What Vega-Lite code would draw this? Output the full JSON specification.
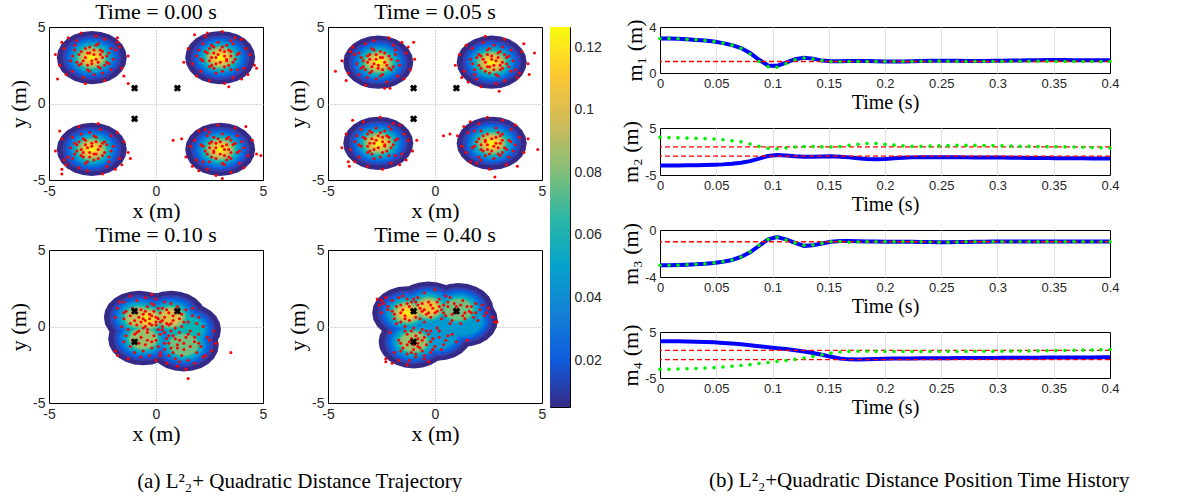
{
"$schema": "https://vega.github.io/schema/vega-lite/v6.json",
"padding": {"left": 7, "top": 0, "right": 5, "bottom": 0},
"background": "white",
"config": {
  "view": {"stroke": "#000000", "strokeWidth": 1},
  "axis": {"domain": false, "ticks": false, "labelFont": "Liberation Sans", "labelFontSize": 14, "labelColor": "#262626", "titleFont": "Liberation Serif", "titleFontWeight": "normal", "titleFontSize": 22, "titleColor": "#000000", "labelFlush": false, "labelOverlap": false, "labelPadding": 4, "titlePadding": 2},
  "title": {"font": "Liberation Serif", "fontWeight": "normal", "fontSize": 22, "color": "#000000", "offset": -4}
},
"datasets": {
"agents": [{"x":-1,"y":1},{"x":1,"y":1},{"x":-1,"y":-1}],
"cbar": [{"lo":0.005,"hi":0.1265}],
"refs": [{"m":"m1","r":1},{"m":"m2","r":1},{"m":"m2","r":-1},{"m":"m3","r":-1},{"m":"m4","r":1},{"m":"m4","r":-1}],
"blobs": [
{"p":"t0","x":-3,"y":3,"d":0.005},{"p":"t0","x":-3,"y":3,"d":0.013},{"p":"t0","x":-3,"y":3,"d":0.021},{"p":"t0","x":-3,"y":3,"d":0.029},{"p":"t0","x":-3,"y":3,"d":0.037},{"p":"t0","x":-3,"y":3,"d":0.045},{"p":"t0","x":-3,"y":3,"d":0.053},{"p":"t0","x":-3,"y":3,"d":0.061},{"p":"t0","x":-3,"y":3,"d":0.069},{"p":"t0","x":-3,"y":3,"d":0.077},{"p":"t0","x":-3,"y":3,"d":0.085},{"p":"t0","x":-3,"y":3,"d":0.093},{"p":"t0","x":-3,"y":3,"d":0.101},{"p":"t0","x":-3,"y":3,"d":0.109},{"p":"t0","x":-3,"y":3,"d":0.117},{"p":"t0","x":-3,"y":3,"d":0.124},
{"p":"t0","x":3,"y":3,"d":0.005},{"p":"t0","x":3,"y":3,"d":0.013},{"p":"t0","x":3,"y":3,"d":0.021},{"p":"t0","x":3,"y":3,"d":0.029},{"p":"t0","x":3,"y":3,"d":0.037},{"p":"t0","x":3,"y":3,"d":0.045},{"p":"t0","x":3,"y":3,"d":0.053},{"p":"t0","x":3,"y":3,"d":0.061},{"p":"t0","x":3,"y":3,"d":0.069},{"p":"t0","x":3,"y":3,"d":0.077},{"p":"t0","x":3,"y":3,"d":0.085},{"p":"t0","x":3,"y":3,"d":0.093},{"p":"t0","x":3,"y":3,"d":0.101},{"p":"t0","x":3,"y":3,"d":0.109},{"p":"t0","x":3,"y":3,"d":0.117},{"p":"t0","x":3,"y":3,"d":0.124},
{"p":"t0","x":-3,"y":-3,"d":0.005},{"p":"t0","x":-3,"y":-3,"d":0.013},{"p":"t0","x":-3,"y":-3,"d":0.021},{"p":"t0","x":-3,"y":-3,"d":0.029},{"p":"t0","x":-3,"y":-3,"d":0.037},{"p":"t0","x":-3,"y":-3,"d":0.045},{"p":"t0","x":-3,"y":-3,"d":0.053},{"p":"t0","x":-3,"y":-3,"d":0.061},{"p":"t0","x":-3,"y":-3,"d":0.069},{"p":"t0","x":-3,"y":-3,"d":0.077},{"p":"t0","x":-3,"y":-3,"d":0.085},{"p":"t0","x":-3,"y":-3,"d":0.093},{"p":"t0","x":-3,"y":-3,"d":0.101},{"p":"t0","x":-3,"y":-3,"d":0.109},{"p":"t0","x":-3,"y":-3,"d":0.117},{"p":"t0","x":-3,"y":-3,"d":0.124},
{"p":"t0","x":3,"y":-3,"d":0.005},{"p":"t0","x":3,"y":-3,"d":0.013},{"p":"t0","x":3,"y":-3,"d":0.021},{"p":"t0","x":3,"y":-3,"d":0.029},{"p":"t0","x":3,"y":-3,"d":0.037},{"p":"t0","x":3,"y":-3,"d":0.045},{"p":"t0","x":3,"y":-3,"d":0.053},{"p":"t0","x":3,"y":-3,"d":0.061},{"p":"t0","x":3,"y":-3,"d":0.069},{"p":"t0","x":3,"y":-3,"d":0.077},{"p":"t0","x":3,"y":-3,"d":0.085},{"p":"t0","x":3,"y":-3,"d":0.093},{"p":"t0","x":3,"y":-3,"d":0.101},{"p":"t0","x":3,"y":-3,"d":0.109},{"p":"t0","x":3,"y":-3,"d":0.117},{"p":"t0","x":3,"y":-3,"d":0.124},
{"p":"t05","x":-2.65,"y":2.7,"d":0.005},{"p":"t05","x":-2.65,"y":2.7,"d":0.013},{"p":"t05","x":-2.65,"y":2.7,"d":0.021},{"p":"t05","x":-2.65,"y":2.7,"d":0.029},{"p":"t05","x":-2.65,"y":2.7,"d":0.037},{"p":"t05","x":-2.65,"y":2.7,"d":0.045},{"p":"t05","x":-2.65,"y":2.7,"d":0.053},{"p":"t05","x":-2.65,"y":2.7,"d":0.061},{"p":"t05","x":-2.65,"y":2.7,"d":0.069},{"p":"t05","x":-2.65,"y":2.7,"d":0.077},{"p":"t05","x":-2.65,"y":2.7,"d":0.085},{"p":"t05","x":-2.65,"y":2.7,"d":0.093},{"p":"t05","x":-2.65,"y":2.7,"d":0.101},{"p":"t05","x":-2.65,"y":2.7,"d":0.109},{"p":"t05","x":-2.65,"y":2.7,"d":0.117},{"p":"t05","x":-2.65,"y":2.7,"d":0.124},
{"p":"t05","x":2.65,"y":2.7,"d":0.005},{"p":"t05","x":2.65,"y":2.7,"d":0.013},{"p":"t05","x":2.65,"y":2.7,"d":0.021},{"p":"t05","x":2.65,"y":2.7,"d":0.029},{"p":"t05","x":2.65,"y":2.7,"d":0.037},{"p":"t05","x":2.65,"y":2.7,"d":0.045},{"p":"t05","x":2.65,"y":2.7,"d":0.053},{"p":"t05","x":2.65,"y":2.7,"d":0.061},{"p":"t05","x":2.65,"y":2.7,"d":0.069},{"p":"t05","x":2.65,"y":2.7,"d":0.077},{"p":"t05","x":2.65,"y":2.7,"d":0.085},{"p":"t05","x":2.65,"y":2.7,"d":0.093},{"p":"t05","x":2.65,"y":2.7,"d":0.101},{"p":"t05","x":2.65,"y":2.7,"d":0.109},{"p":"t05","x":2.65,"y":2.7,"d":0.117},{"p":"t05","x":2.65,"y":2.7,"d":0.124},
{"p":"t05","x":-2.65,"y":-2.6,"d":0.005},{"p":"t05","x":-2.65,"y":-2.6,"d":0.013},{"p":"t05","x":-2.65,"y":-2.6,"d":0.021},{"p":"t05","x":-2.65,"y":-2.6,"d":0.029},{"p":"t05","x":-2.65,"y":-2.6,"d":0.037},{"p":"t05","x":-2.65,"y":-2.6,"d":0.045},{"p":"t05","x":-2.65,"y":-2.6,"d":0.053},{"p":"t05","x":-2.65,"y":-2.6,"d":0.061},{"p":"t05","x":-2.65,"y":-2.6,"d":0.069},{"p":"t05","x":-2.65,"y":-2.6,"d":0.077},{"p":"t05","x":-2.65,"y":-2.6,"d":0.085},{"p":"t05","x":-2.65,"y":-2.6,"d":0.093},{"p":"t05","x":-2.65,"y":-2.6,"d":0.101},{"p":"t05","x":-2.65,"y":-2.6,"d":0.109},{"p":"t05","x":-2.65,"y":-2.6,"d":0.117},{"p":"t05","x":-2.65,"y":-2.6,"d":0.124},
{"p":"t05","x":2.65,"y":-2.6,"d":0.005},{"p":"t05","x":2.65,"y":-2.6,"d":0.013},{"p":"t05","x":2.65,"y":-2.6,"d":0.021},{"p":"t05","x":2.65,"y":-2.6,"d":0.029},{"p":"t05","x":2.65,"y":-2.6,"d":0.037},{"p":"t05","x":2.65,"y":-2.6,"d":0.045},{"p":"t05","x":2.65,"y":-2.6,"d":0.053},{"p":"t05","x":2.65,"y":-2.6,"d":0.061},{"p":"t05","x":2.65,"y":-2.6,"d":0.069},{"p":"t05","x":2.65,"y":-2.6,"d":0.077},{"p":"t05","x":2.65,"y":-2.6,"d":0.085},{"p":"t05","x":2.65,"y":-2.6,"d":0.093},{"p":"t05","x":2.65,"y":-2.6,"d":0.101},{"p":"t05","x":2.65,"y":-2.6,"d":0.109},{"p":"t05","x":2.65,"y":-2.6,"d":0.117},{"p":"t05","x":2.65,"y":-2.6,"d":0.124},
{"p":"t10","x":-0.4,"y":0.5,"d":0.005},{"p":"t10","x":-0.4,"y":0.5,"d":0.013},{"p":"t10","x":-0.4,"y":0.5,"d":0.021},{"p":"t10","x":-0.4,"y":0.5,"d":0.029},{"p":"t10","x":-0.4,"y":0.5,"d":0.037},{"p":"t10","x":-0.4,"y":0.5,"d":0.045},{"p":"t10","x":-0.4,"y":0.5,"d":0.053},{"p":"t10","x":-0.4,"y":0.5,"d":0.061},{"p":"t10","x":-0.4,"y":0.5,"d":0.069},{"p":"t10","x":-0.4,"y":0.5,"d":0.077},{"p":"t10","x":-0.4,"y":0.5,"d":0.085},{"p":"t10","x":-0.4,"y":0.5,"d":0.093},{"p":"t10","x":-0.4,"y":0.5,"d":0.101},{"p":"t10","x":-0.4,"y":0.5,"d":0.109},{"p":"t10","x":-0.4,"y":0.5,"d":0.117},{"p":"t10","x":-0.4,"y":0.5,"d":0.124},
{"p":"t10","x":-0.8,"y":0.6,"d":0.005},{"p":"t10","x":-0.8,"y":0.6,"d":0.013},{"p":"t10","x":-0.8,"y":0.6,"d":0.021},{"p":"t10","x":-0.8,"y":0.6,"d":0.029},{"p":"t10","x":-0.8,"y":0.6,"d":0.037},{"p":"t10","x":-0.8,"y":0.6,"d":0.045},{"p":"t10","x":-0.8,"y":0.6,"d":0.053},{"p":"t10","x":-0.8,"y":0.6,"d":0.061},{"p":"t10","x":-0.8,"y":0.6,"d":0.069},{"p":"t10","x":-0.8,"y":0.6,"d":0.077},{"p":"t10","x":-0.8,"y":0.6,"d":0.085},{"p":"t10","x":-0.8,"y":0.6,"d":0.093},
{"p":"t10","x":0.7,"y":0.6,"d":0.005},{"p":"t10","x":0.7,"y":0.6,"d":0.013},{"p":"t10","x":0.7,"y":0.6,"d":0.021},{"p":"t10","x":0.7,"y":0.6,"d":0.029},{"p":"t10","x":0.7,"y":0.6,"d":0.037},{"p":"t10","x":0.7,"y":0.6,"d":0.045},{"p":"t10","x":0.7,"y":0.6,"d":0.053},{"p":"t10","x":0.7,"y":0.6,"d":0.061},{"p":"t10","x":0.7,"y":0.6,"d":0.069},{"p":"t10","x":0.7,"y":0.6,"d":0.077},{"p":"t10","x":0.7,"y":0.6,"d":0.085},{"p":"t10","x":0.7,"y":0.6,"d":0.093},{"p":"t10","x":0.7,"y":0.6,"d":0.101},
{"p":"t10","x":-0.6,"y":-0.8,"d":0.005},{"p":"t10","x":-0.6,"y":-0.8,"d":0.013},{"p":"t10","x":-0.6,"y":-0.8,"d":0.021},{"p":"t10","x":-0.6,"y":-0.8,"d":0.029},{"p":"t10","x":-0.6,"y":-0.8,"d":0.037},{"p":"t10","x":-0.6,"y":-0.8,"d":0.045},{"p":"t10","x":-0.6,"y":-0.8,"d":0.053},{"p":"t10","x":-0.6,"y":-0.8,"d":0.061},{"p":"t10","x":-0.6,"y":-0.8,"d":0.069},{"p":"t10","x":-0.6,"y":-0.8,"d":0.077},{"p":"t10","x":-0.6,"y":-0.8,"d":0.085},
{"p":"t10","x":1.3,"y":-1.2,"d":0.005},{"p":"t10","x":1.3,"y":-1.2,"d":0.013},{"p":"t10","x":1.3,"y":-1.2,"d":0.021},{"p":"t10","x":1.3,"y":-1.2,"d":0.029},{"p":"t10","x":1.3,"y":-1.2,"d":0.037},{"p":"t10","x":1.3,"y":-1.2,"d":0.045},{"p":"t10","x":1.3,"y":-1.2,"d":0.053},{"p":"t10","x":1.3,"y":-1.2,"d":0.061},{"p":"t10","x":1.3,"y":-1.2,"d":0.069},{"p":"t10","x":1.3,"y":-1.2,"d":0.077},
{"p":"t10","x":1.4,"y":-0.2,"d":0.005},{"p":"t10","x":1.4,"y":-0.2,"d":0.013},{"p":"t10","x":1.4,"y":-0.2,"d":0.021},{"p":"t10","x":1.4,"y":-0.2,"d":0.029},{"p":"t10","x":1.4,"y":-0.2,"d":0.037},{"p":"t10","x":1.4,"y":-0.2,"d":0.045},{"p":"t10","x":1.4,"y":-0.2,"d":0.053},{"p":"t10","x":1.4,"y":-0.2,"d":0.061},
{"p":"t40","x":-1.3,"y":0.9,"d":0.005},{"p":"t40","x":-1.3,"y":0.9,"d":0.013},{"p":"t40","x":-1.3,"y":0.9,"d":0.021},{"p":"t40","x":-1.3,"y":0.9,"d":0.029},{"p":"t40","x":-1.3,"y":0.9,"d":0.037},{"p":"t40","x":-1.3,"y":0.9,"d":0.045},{"p":"t40","x":-1.3,"y":0.9,"d":0.053},{"p":"t40","x":-1.3,"y":0.9,"d":0.061},{"p":"t40","x":-1.3,"y":0.9,"d":0.069},{"p":"t40","x":-1.3,"y":0.9,"d":0.077},{"p":"t40","x":-1.3,"y":0.9,"d":0.085},{"p":"t40","x":-1.3,"y":0.9,"d":0.093},{"p":"t40","x":-1.3,"y":0.9,"d":0.101},{"p":"t40","x":-1.3,"y":0.9,"d":0.109},{"p":"t40","x":-1.3,"y":0.9,"d":0.117},{"p":"t40","x":-1.3,"y":0.9,"d":0.124},
{"p":"t40","x":-0.3,"y":1.2,"d":0.005},{"p":"t40","x":-0.3,"y":1.2,"d":0.013},{"p":"t40","x":-0.3,"y":1.2,"d":0.021},{"p":"t40","x":-0.3,"y":1.2,"d":0.029},{"p":"t40","x":-0.3,"y":1.2,"d":0.037},{"p":"t40","x":-0.3,"y":1.2,"d":0.045},{"p":"t40","x":-0.3,"y":1.2,"d":0.053},{"p":"t40","x":-0.3,"y":1.2,"d":0.061},{"p":"t40","x":-0.3,"y":1.2,"d":0.069},{"p":"t40","x":-0.3,"y":1.2,"d":0.077},{"p":"t40","x":-0.3,"y":1.2,"d":0.085},{"p":"t40","x":-0.3,"y":1.2,"d":0.093},{"p":"t40","x":-0.3,"y":1.2,"d":0.101},{"p":"t40","x":-0.3,"y":1.2,"d":0.109},
{"p":"t40","x":1.1,"y":1.1,"d":0.005},{"p":"t40","x":1.1,"y":1.1,"d":0.013},{"p":"t40","x":1.1,"y":1.1,"d":0.021},{"p":"t40","x":1.1,"y":1.1,"d":0.029},{"p":"t40","x":1.1,"y":1.1,"d":0.037},{"p":"t40","x":1.1,"y":1.1,"d":0.045},{"p":"t40","x":1.1,"y":1.1,"d":0.053},{"p":"t40","x":1.1,"y":1.1,"d":0.061},{"p":"t40","x":1.1,"y":1.1,"d":0.069},{"p":"t40","x":1.1,"y":1.1,"d":0.077},
{"p":"t40","x":-1.0,"y":-1.0,"d":0.005},{"p":"t40","x":-1.0,"y":-1.0,"d":0.013},{"p":"t40","x":-1.0,"y":-1.0,"d":0.021},{"p":"t40","x":-1.0,"y":-1.0,"d":0.029},{"p":"t40","x":-1.0,"y":-1.0,"d":0.037},{"p":"t40","x":-1.0,"y":-1.0,"d":0.045},{"p":"t40","x":-1.0,"y":-1.0,"d":0.053},{"p":"t40","x":-1.0,"y":-1.0,"d":0.061},{"p":"t40","x":-1.0,"y":-1.0,"d":0.069},{"p":"t40","x":-1.0,"y":-1.0,"d":0.077},{"p":"t40","x":-1.0,"y":-1.0,"d":0.085},
{"p":"t40","x":0.1,"y":-0.5,"d":0.005},{"p":"t40","x":0.1,"y":-0.5,"d":0.013},{"p":"t40","x":0.1,"y":-0.5,"d":0.021},{"p":"t40","x":0.1,"y":-0.5,"d":0.029},{"p":"t40","x":0.1,"y":-0.5,"d":0.037},{"p":"t40","x":0.1,"y":-0.5,"d":0.045},
{"p":"t40","x":1.3,"y":0.4,"d":0.005},{"p":"t40","x":1.3,"y":0.4,"d":0.013},{"p":"t40","x":1.3,"y":0.4,"d":0.021},{"p":"t40","x":1.3,"y":0.4,"d":0.029},{"p":"t40","x":1.3,"y":0.4,"d":0.037},{"p":"t40","x":1.3,"y":0.4,"d":0.045}
],
"dots": [
{"p":"t0","x":-2.9,"y":3.2},{"p":"t0","x":-3.5,"y":3.4},{"p":"t0","x":-2.3,"y":2.7},{"p":"t0","x":-3.2,"y":2.2},{"p":"t0","x":-1.9,"y":3.5},{"p":"t0","x":-4.0,"y":2.8},{"p":"t0","x":-2.7,"y":3.9},{"p":"t0","x":-3.7,"y":4.1},{"p":"t0","x":-2.5,"y":2.0},{"p":"t0","x":-4.3,"y":3.6},{"p":"t0","x":-1.6,"y":2.3},{"p":"t0","x":-3.0,"y":2.6},{"p":"t0","x":-3.3,"y":3.0},{"p":"t0","x":-2.2,"y":3.3},{"p":"t0","x":-3.9,"y":2.1},{"p":"t0","x":-2.8,"y":4.4},{"p":"t0","x":-1.8,"y":4.0},{"p":"t0","x":-4.5,"y":2.5},{"p":"t0","x":-2.4,"y":1.5},{"p":"t0","x":-3.4,"y":1.7},{"p":"t0","x":-1.3,"y":3.1},{"p":"t0","x":-4.1,"y":4.3},{"p":"t0","x":-2.6,"y":3.5},{"p":"t0","x":-3.6,"y":2.5},{"p":"t0","x":-2.1,"y":2.2},{"p":"t0","x":-3.1,"y":3.7},{"p":"t0","x":-1.5,"y":1.8},{"p":"t0","x":-4.7,"y":3.2},{"p":"t0","x":-2.9,"y":1.9},{"p":"t0","x":-3.8,"y":3.5},{"p":"t0","x":-2.4,"y":4.2},{"p":"t0","x":-3.3,"y":1.3},{"p":"t0","x":-2.0,"y":2.9},{"p":"t0","x":-4.2,"y":1.9},{"p":"t0","x":-2.7,"y":2.4},{"p":"t0","x":-3.5,"y":4.6},{"p":"t0","x":-1.7,"y":3.7},{"p":"t0","x":-3.2,"y":3.3},{"p":"t0","x":-2.2,"y":2.6},{"p":"t0","x":-4.4,"y":4.0},{"p":"t0","x":-1.3,"y":1.3},{"p":"t0","x":-3.9,"y":3.1},{"p":"t0","x":-2.5,"y":3.0},{"p":"t0","x":-1.8,"y":4.3},{"p":"t0","x":-4.6,"y":1.6},
{"p":"t0","x":-2.8,"y":2.9},{"p":"t0","x":-3.1,"y":3.3},{"p":"t0","x":-2.6,"y":3.2},{"p":"t0","x":-3.4,"y":2.8},{"p":"t0","x":-2.9,"y":3.5},{"p":"t0","x":-3.3,"y":3.6},{"p":"t0","x":-2.4,"y":2.5},{"p":"t0","x":-3.6,"y":3.2},{"p":"t0","x":-2.7,"y":2.7},{"p":"t0","x":-3.0,"y":2.8},{"p":"t0","x":-3.2,"y":2.5},{"p":"t0","x":-2.5,"y":3.4},{"p":"t0","x":-3.5,"y":2.6},{"p":"t0","x":-2.3,"y":3.1},{"p":"t0","x":-3.7,"y":2.7},{"p":"t0","x":-2.8,"y":3.8},{"p":"t0","x":-3.1,"y":2.1},{"p":"t0","x":-2.1,"y":3.6},{"p":"t0","x":-3.8,"y":3.8},{"p":"t0","x":-2.6,"y":2.3},
{"p":"t0","x":3.2,"y":3.1},{"p":"t0","x":3.4,"y":2.5},{"p":"t0","x":2.7,"y":3.7},{"p":"t0","x":2.2,"y":2.8},{"p":"t0","x":3.5,"y":4.1},{"p":"t0","x":2.8,"y":2.0},{"p":"t0","x":3.9,"y":3.3},{"p":"t0","x":4.1,"y":2.3},{"p":"t0","x":2.0,"y":3.5},{"p":"t0","x":3.6,"y":1.7},{"p":"t0","x":2.3,"y":4.4},{"p":"t0","x":2.6,"y":3.0},{"p":"t0","x":3.0,"y":2.7},{"p":"t0","x":3.3,"y":3.8},{"p":"t0","x":2.1,"y":2.1},{"p":"t0","x":4.4,"y":3.2},{"p":"t0","x":4.0,"y":4.2},{"p":"t0","x":2.5,"y":1.5},{"p":"t0","x":1.5,"y":3.6},{"p":"t0","x":1.7,"y":2.6},{"p":"t0","x":3.1,"y":4.7},{"p":"t0","x":4.3,"y":1.9},{"p":"t0","x":3.5,"y":3.4},{"p":"t0","x":2.5,"y":2.4},{"p":"t0","x":2.2,"y":3.9},{"p":"t0","x":3.7,"y":2.9},{"p":"t0","x":1.8,"y":4.5},{"p":"t0","x":3.2,"y":1.3},{"p":"t0","x":1.9,"y":3.1},{"p":"t0","x":3.5,"y":2.2},{"p":"t0","x":4.2,"y":3.6},{"p":"t0","x":1.3,"y":2.7},{"p":"t0","x":2.9,"y":4.0},{"p":"t0","x":1.9,"y":1.8},{"p":"t0","x":2.4,"y":3.3},{"p":"t0","x":4.6,"y":2.5},{"p":"t0","x":3.7,"y":4.3},{"p":"t0","x":3.3,"y":2.8},{"p":"t0","x":2.6,"y":3.8},{"p":"t0","x":4.0,"y":1.6},{"p":"t0","x":2.4,"y":4.6},{"p":"t0","x":3.1,"y":2.1},{"p":"t0","x":3.0,"y":3.5},{"p":"t0","x":4.7,"y":2.3},{"p":"t0","x":3.4,"y":1.1},
{"p":"t0","x":2.9,"y":3.2},{"p":"t0","x":3.3,"y":2.9},{"p":"t0","x":3.2,"y":3.4},{"p":"t0","x":2.8,"y":2.6},{"p":"t0","x":3.5,"y":3.1},{"p":"t0","x":3.6,"y":2.7},{"p":"t0","x":2.5,"y":3.6},{"p":"t0","x":3.2,"y":2.4},{"p":"t0","x":2.7,"y":3.3},{"p":"t0","x":2.8,"y":3.0},{"p":"t0","x":2.5,"y":2.8},{"p":"t0","x":3.4,"y":3.5},{"p":"t0","x":2.6,"y":2.5},{"p":"t0","x":3.1,"y":3.7},{"p":"t0","x":2.7,"y":2.3},{"p":"t0","x":3.8,"y":3.2},{"p":"t0","x":2.1,"y":2.9},{"p":"t0","x":3.6,"y":3.9},{"p":"t0","x":3.8,"y":2.2},{"p":"t0","x":2.3,"y":3.4},
{"p":"t0","x":-3.1,"y":-3.2},{"p":"t0","x":-2.5,"y":-3.4},{"p":"t0","x":-3.7,"y":-2.7},{"p":"t0","x":-2.8,"y":-2.2},{"p":"t0","x":-4.1,"y":-3.5},{"p":"t0","x":-2.0,"y":-2.8},{"p":"t0","x":-3.3,"y":-3.9},{"p":"t0","x":-2.3,"y":-4.1},{"p":"t0","x":-3.5,"y":-2.0},{"p":"t0","x":-1.7,"y":-3.6},{"p":"t0","x":-4.4,"y":-2.3},{"p":"t0","x":-3.0,"y":-2.6},{"p":"t0","x":-2.7,"y":-3.0},{"p":"t0","x":-3.8,"y":-3.3},{"p":"t0","x":-2.1,"y":-2.1},{"p":"t0","x":-3.2,"y":-4.4},{"p":"t0","x":-4.2,"y":-4.0},{"p":"t0","x":-1.5,"y":-2.5},{"p":"t0","x":-3.6,"y":-1.5},{"p":"t0","x":-2.6,"y":-1.7},{"p":"t0","x":-4.7,"y":-3.1},{"p":"t0","x":-1.9,"y":-4.3},{"p":"t0","x":-3.4,"y":-3.5},{"p":"t0","x":-2.4,"y":-2.5},{"p":"t0","x":-3.9,"y":-2.2},{"p":"t0","x":-2.9,"y":-3.7},{"p":"t0","x":-4.5,"y":-1.8},{"p":"t0","x":-1.3,"y":-3.2},{"p":"t0","x":-3.1,"y":-1.9},{"p":"t0","x":-2.2,"y":-3.5},{"p":"t0","x":-3.6,"y":-4.2},{"p":"t0","x":-2.7,"y":-1.3},{"p":"t0","x":-4.0,"y":-2.9},{"p":"t0","x":-1.8,"y":-1.9},{"p":"t0","x":-3.3,"y":-2.4},{"p":"t0","x":-2.5,"y":-4.6},{"p":"t0","x":-4.3,"y":-3.7},{"p":"t0","x":-2.8,"y":-3.3},{"p":"t0","x":-3.8,"y":-2.6},{"p":"t0","x":-1.6,"y":-4.0},{"p":"t0","x":-4.4,"y":-4.3},{"p":"t0","x":-2.1,"y":-3.1},{"p":"t0","x":-3.5,"y":-3.0},{"p":"t0","x":-1.2,"y":-3.6},{"p":"t0","x":-4.4,"y":-4.6},
{"p":"t0","x":-3.2,"y":-2.9},{"p":"t0","x":-2.9,"y":-3.3},{"p":"t0","x":-3.4,"y":-3.2},{"p":"t0","x":-2.6,"y":-2.8},{"p":"t0","x":-3.1,"y":-3.5},{"p":"t0","x":-2.7,"y":-3.6},{"p":"t0","x":-3.6,"y":-2.5},{"p":"t0","x":-2.4,"y":-3.2},{"p":"t0","x":-3.3,"y":-2.7},{"p":"t0","x":-3.0,"y":-2.8},{"p":"t0","x":-2.8,"y":-2.5},{"p":"t0","x":-3.5,"y":-3.4},{"p":"t0","x":-2.5,"y":-2.6},{"p":"t0","x":-3.7,"y":-3.1},{"p":"t0","x":-2.3,"y":-2.7},{"p":"t0","x":-3.2,"y":-3.8},{"p":"t0","x":-2.9,"y":-2.1},{"p":"t0","x":-3.9,"y":-3.6},{"p":"t0","x":-2.2,"y":-3.8},{"p":"t0","x":-3.4,"y":-2.3},
{"p":"t0","x":2.8,"y":-2.9},{"p":"t0","x":2.6,"y":-3.5},{"p":"t0","x":3.3,"y":-2.3},{"p":"t0","x":3.8,"y":-3.2},{"p":"t0","x":2.5,"y":-1.9},{"p":"t0","x":3.2,"y":-4.0},{"p":"t0","x":2.1,"y":-2.7},{"p":"t0","x":1.9,"y":-3.7},{"p":"t0","x":4.0,"y":-2.5},{"p":"t0","x":2.4,"y":-4.3},{"p":"t0","x":3.7,"y":-1.6},{"p":"t0","x":3.4,"y":-3.0},{"p":"t0","x":3.0,"y":-3.3},{"p":"t0","x":2.7,"y":-2.2},{"p":"t0","x":3.9,"y":-3.9},{"p":"t0","x":1.6,"y":-2.8},{"p":"t0","x":2.0,"y":-1.8},{"p":"t0","x":3.5,"y":-4.5},{"p":"t0","x":4.5,"y":-2.4},{"p":"t0","x":4.3,"y":-3.4},{"p":"t0","x":2.9,"y":-1.4},{"p":"t0","x":1.7,"y":-4.1},{"p":"t0","x":2.5,"y":-2.6},{"p":"t0","x":3.5,"y":-3.6},{"p":"t0","x":3.8,"y":-2.1},{"p":"t0","x":2.3,"y":-3.1},{"p":"t0","x":4.2,"y":-1.5},{"p":"t0","x":2.8,"y":-4.7},{"p":"t0","x":4.1,"y":-2.9},{"p":"t0","x":2.5,"y":-3.8},{"p":"t0","x":1.8,"y":-2.4},{"p":"t0","x":4.7,"y":-3.3},{"p":"t0","x":3.1,"y":-2.0},{"p":"t0","x":4.1,"y":-4.2},{"p":"t0","x":3.6,"y":-2.7},{"p":"t0","x":1.4,"y":-3.5},{"p":"t0","x":2.3,"y":-1.7},{"p":"t0","x":2.7,"y":-3.2},{"p":"t0","x":3.4,"y":-2.2},{"p":"t0","x":2.0,"y":-4.4},{"p":"t0","x":0.8,"y":-2.4},{"p":"t0","x":3.1,"y":-3.9},{"p":"t0","x":3.0,"y":-2.5},{"p":"t0","x":1.2,"y":-2.3},{"p":"t0","x":4.9,"y":-3.4},{"p":"t0","x":3.1,"y":-4.9},
{"p":"t0","x":3.1,"y":-2.8},{"p":"t0","x":2.7,"y":-3.1},{"p":"t0","x":2.8,"y":-2.6},{"p":"t0","x":3.2,"y":-3.4},{"p":"t0","x":2.5,"y":-2.9},{"p":"t0","x":2.4,"y":-3.3},{"p":"t0","x":3.5,"y":-2.4},{"p":"t0","x":2.8,"y":-3.6},{"p":"t0","x":3.3,"y":-2.7},{"p":"t0","x":3.2,"y":-3.0},{"p":"t0","x":3.5,"y":-3.2},{"p":"t0","x":2.6,"y":-2.5},{"p":"t0","x":3.4,"y":-3.5},{"p":"t0","x":2.9,"y":-2.3},{"p":"t0","x":3.3,"y":-3.7},{"p":"t0","x":2.2,"y":-2.8},{"p":"t0","x":3.9,"y":-3.1},{"p":"t0","x":2.4,"y":-2.1},{"p":"t0","x":2.2,"y":-3.8},{"p":"t0","x":3.7,"y":-2.6},
{"p":"t05","x":-2.75,"y":2.9},{"p":"t05","x":-2.15,"y":3.1},{"p":"t05","x":-3.35,"y":2.4},{"p":"t05","x":-2.45,"y":1.9},{"p":"t05","x":-3.75,"y":3.2},{"p":"t05","x":-1.65,"y":2.5},{"p":"t05","x":-2.95,"y":3.6},{"p":"t05","x":-1.95,"y":3.8},{"p":"t05","x":-3.15,"y":1.7},{"p":"t05","x":-1.35,"y":3.3},{"p":"t05","x":-4.05,"y":2.0},{"p":"t05","x":-2.65,"y":2.3},{"p":"t05","x":-2.35,"y":2.7},{"p":"t05","x":-3.45,"y":3.0},{"p":"t05","x":-1.75,"y":1.8},{"p":"t05","x":-2.85,"y":4.1},{"p":"t05","x":-3.85,"y":3.7},{"p":"t05","x":-1.15,"y":2.2},{"p":"t05","x":-3.25,"y":1.2},{"p":"t05","x":-2.25,"y":1.4},{"p":"t05","x":-4.35,"y":2.8},{"p":"t05","x":-1.55,"y":4.0},{"p":"t05","x":-3.05,"y":3.2},{"p":"t05","x":-2.05,"y":2.2},{"p":"t05","x":-3.55,"y":1.9},{"p":"t05","x":-2.55,"y":3.4},{"p":"t05","x":-4.15,"y":1.5},{"p":"t05","x":-0.95,"y":2.9},{"p":"t05","x":-2.75,"y":1.6},{"p":"t05","x":-1.85,"y":3.2},{"p":"t05","x":-3.25,"y":3.9},{"p":"t05","x":-2.35,"y":1.0},{"p":"t05","x":-3.65,"y":2.6},{"p":"t05","x":-1.45,"y":1.6},{"p":"t05","x":-2.95,"y":2.1},{"p":"t05","x":-2.15,"y":4.3},{"p":"t05","x":-3.95,"y":3.4},{"p":"t05","x":-2.45,"y":3.0},{"p":"t05","x":-3.45,"y":2.3},{"p":"t05","x":-1.25,"y":3.7},{"p":"t05","x":-4.65,"y":2.1},{"p":"t05","x":-1.75,"y":2.8},{"p":"t05","x":-3.15,"y":2.7},{"p":"t05","x":-2.1,"y":1.0},{"p":"t05","x":-1.0,"y":4.0},
{"p":"t05","x":-2.85,"y":2.6},{"p":"t05","x":-2.55,"y":3.0},{"p":"t05","x":-3.05,"y":2.9},{"p":"t05","x":-2.25,"y":2.5},{"p":"t05","x":-2.75,"y":3.2},{"p":"t05","x":-2.35,"y":3.3},{"p":"t05","x":-3.25,"y":2.2},{"p":"t05","x":-2.05,"y":2.9},{"p":"t05","x":-2.95,"y":2.4},{"p":"t05","x":-2.65,"y":2.5},{"p":"t05","x":-2.45,"y":2.2},{"p":"t05","x":-3.15,"y":3.1},{"p":"t05","x":-2.15,"y":2.3},{"p":"t05","x":-3.35,"y":2.8},{"p":"t05","x":-1.95,"y":2.4},{"p":"t05","x":-2.85,"y":3.5},{"p":"t05","x":-2.55,"y":1.8},{"p":"t05","x":-3.55,"y":3.3},{"p":"t05","x":-1.85,"y":3.5},{"p":"t05","x":-3.05,"y":2.0},
{"p":"t05","x":2.75,"y":2.5},{"p":"t05","x":2.15,"y":2.3},{"p":"t05","x":3.35,"y":3.0},{"p":"t05","x":2.45,"y":3.5},{"p":"t05","x":3.75,"y":2.2},{"p":"t05","x":1.65,"y":2.9},{"p":"t05","x":2.95,"y":1.8},{"p":"t05","x":1.95,"y":1.6},{"p":"t05","x":3.15,"y":3.7},{"p":"t05","x":1.35,"y":2.1},{"p":"t05","x":4.05,"y":3.4},{"p":"t05","x":2.65,"y":3.1},{"p":"t05","x":2.35,"y":2.7},{"p":"t05","x":3.45,"y":2.4},{"p":"t05","x":1.75,"y":3.6},{"p":"t05","x":2.85,"y":1.3},{"p":"t05","x":3.85,"y":1.7},{"p":"t05","x":1.15,"y":3.2},{"p":"t05","x":3.25,"y":4.2},{"p":"t05","x":2.25,"y":4.0},{"p":"t05","x":4.35,"y":2.6},{"p":"t05","x":1.55,"y":1.4},{"p":"t05","x":3.05,"y":2.2},{"p":"t05","x":2.05,"y":3.2},{"p":"t05","x":3.55,"y":3.5},{"p":"t05","x":2.55,"y":2.0},{"p":"t05","x":4.15,"y":3.9},{"p":"t05","x":0.95,"y":2.5},{"p":"t05","x":2.75,"y":3.8},{"p":"t05","x":1.85,"y":2.2},{"p":"t05","x":3.25,"y":1.5},{"p":"t05","x":2.35,"y":4.4},{"p":"t05","x":3.65,"y":2.8},{"p":"t05","x":1.45,"y":3.8},{"p":"t05","x":2.95,"y":3.3},{"p":"t05","x":2.15,"y":1.1},{"p":"t05","x":3.95,"y":2.0},{"p":"t05","x":2.45,"y":2.4},{"p":"t05","x":3.45,"y":3.1},{"p":"t05","x":1.25,"y":1.7},{"p":"t05","x":4.65,"y":3.3},{"p":"t05","x":1.75,"y":2.6},{"p":"t05","x":3.15,"y":2.7},{"p":"t05","x":3.0,"y":0.8},{"p":"t05","x":4.4,"y":1.9},
{"p":"t05","x":2.85,"y":2.8},{"p":"t05","x":2.55,"y":2.4},{"p":"t05","x":3.05,"y":2.5},{"p":"t05","x":2.25,"y":2.9},{"p":"t05","x":2.75,"y":2.2},{"p":"t05","x":2.35,"y":2.1},{"p":"t05","x":3.25,"y":3.2},{"p":"t05","x":2.05,"y":2.5},{"p":"t05","x":2.95,"y":3.0},{"p":"t05","x":2.65,"y":2.9},{"p":"t05","x":2.45,"y":3.2},{"p":"t05","x":3.15,"y":2.3},{"p":"t05","x":2.15,"y":3.1},{"p":"t05","x":3.35,"y":2.6},{"p":"t05","x":1.95,"y":3.0},{"p":"t05","x":2.85,"y":1.9},{"p":"t05","x":2.55,"y":3.6},{"p":"t05","x":3.55,"y":2.1},{"p":"t05","x":1.85,"y":1.9},{"p":"t05","x":3.05,"y":3.4},
{"p":"t05","x":-2.45,"y":-2.5},{"p":"t05","x":-2.25,"y":-3.1},{"p":"t05","x":-2.95,"y":-1.9},{"p":"t05","x":-3.45,"y":-2.8},{"p":"t05","x":-2.15,"y":-1.5},{"p":"t05","x":-2.85,"y":-3.6},{"p":"t05","x":-1.75,"y":-2.3},{"p":"t05","x":-1.55,"y":-3.3},{"p":"t05","x":-3.65,"y":-2.1},{"p":"t05","x":-2.05,"y":-3.9},{"p":"t05","x":-3.35,"y":-1.2},{"p":"t05","x":-3.05,"y":-2.6},{"p":"t05","x":-2.65,"y":-2.9},{"p":"t05","x":-2.35,"y":-1.8},{"p":"t05","x":-3.55,"y":-3.5},{"p":"t05","x":-1.25,"y":-2.4},{"p":"t05","x":-1.65,"y":-1.4},{"p":"t05","x":-3.15,"y":-4.1},{"p":"t05","x":-4.15,"y":-2.0},{"p":"t05","x":-3.95,"y":-3.0},{"p":"t05","x":-2.55,"y":-0.9},{"p":"t05","x":-1.35,"y":-3.7},{"p":"t05","x":-2.15,"y":-2.2},{"p":"t05","x":-3.15,"y":-3.2},{"p":"t05","x":-3.45,"y":-1.7},{"p":"t05","x":-1.95,"y":-2.7},{"p":"t05","x":-3.85,"y":-1.1},{"p":"t05","x":-2.45,"y":-4.3},{"p":"t05","x":-3.75,"y":-2.5},{"p":"t05","x":-2.15,"y":-3.4},{"p":"t05","x":-1.45,"y":-2.0},{"p":"t05","x":-4.35,"y":-2.9},{"p":"t05","x":-2.75,"y":-1.6},{"p":"t05","x":-3.75,"y":-3.8},{"p":"t05","x":-3.25,"y":-2.3},{"p":"t05","x":-1.05,"y":-3.1},{"p":"t05","x":-1.95,"y":-1.3},{"p":"t05","x":-2.35,"y":-2.8},{"p":"t05","x":-3.05,"y":-1.8},{"p":"t05","x":-1.65,"y":-4.0},{"p":"t05","x":-0.85,"y":-2.4},{"p":"t05","x":-2.55,"y":-3.5},{"p":"t05","x":-2.65,"y":-2.1},{"p":"t05","x":-4.0,"y":-4.1},{"p":"t05","x":-4.05,"y":-3.8},
{"p":"t05","x":-2.75,"y":-2.4},{"p":"t05","x":-2.35,"y":-2.7},{"p":"t05","x":-2.45,"y":-2.2},{"p":"t05","x":-2.85,"y":-3.0},{"p":"t05","x":-2.15,"y":-2.5},{"p":"t05","x":-2.05,"y":-2.9},{"p":"t05","x":-3.15,"y":-2.0},{"p":"t05","x":-2.45,"y":-3.2},{"p":"t05","x":-2.95,"y":-2.3},{"p":"t05","x":-2.85,"y":-2.6},{"p":"t05","x":-3.15,"y":-2.8},{"p":"t05","x":-2.25,"y":-2.1},{"p":"t05","x":-3.05,"y":-3.1},{"p":"t05","x":-2.55,"y":-1.9},{"p":"t05","x":-2.95,"y":-3.3},{"p":"t05","x":-1.85,"y":-2.4},{"p":"t05","x":-3.55,"y":-2.7},{"p":"t05","x":-2.05,"y":-1.7},{"p":"t05","x":-1.85,"y":-3.4},{"p":"t05","x":-3.35,"y":-2.2},
{"p":"t05","x":2.45,"y":-2.7},{"p":"t05","x":2.25,"y":-2.1},{"p":"t05","x":2.95,"y":-3.3},{"p":"t05","x":3.45,"y":-2.4},{"p":"t05","x":2.15,"y":-3.7},{"p":"t05","x":2.85,"y":-1.6},{"p":"t05","x":1.75,"y":-2.9},{"p":"t05","x":1.55,"y":-1.9},{"p":"t05","x":3.65,"y":-3.1},{"p":"t05","x":2.05,"y":-1.3},{"p":"t05","x":3.35,"y":-4.0},{"p":"t05","x":3.05,"y":-2.6},{"p":"t05","x":2.65,"y":-2.3},{"p":"t05","x":2.35,"y":-3.4},{"p":"t05","x":3.55,"y":-1.7},{"p":"t05","x":1.25,"y":-2.8},{"p":"t05","x":1.65,"y":-3.8},{"p":"t05","x":3.15,"y":-1.1},{"p":"t05","x":4.15,"y":-3.2},{"p":"t05","x":3.95,"y":-2.2},{"p":"t05","x":2.55,"y":-4.3},{"p":"t05","x":1.35,"y":-1.5},{"p":"t05","x":2.15,"y":-3.0},{"p":"t05","x":3.15,"y":-2.0},{"p":"t05","x":3.45,"y":-3.5},{"p":"t05","x":1.95,"y":-2.5},{"p":"t05","x":3.85,"y":-4.1},{"p":"t05","x":2.45,"y":-0.9},{"p":"t05","x":3.75,"y":-2.7},{"p":"t05","x":2.15,"y":-1.8},{"p":"t05","x":1.45,"y":-3.2},{"p":"t05","x":4.35,"y":-2.3},{"p":"t05","x":2.75,"y":-3.6},{"p":"t05","x":3.75,"y":-1.4},{"p":"t05","x":3.25,"y":-2.9},{"p":"t05","x":1.05,"y":-2.1},{"p":"t05","x":1.95,"y":-3.9},{"p":"t05","x":2.35,"y":-2.4},{"p":"t05","x":3.05,"y":-3.4},{"p":"t05","x":1.65,"y":-1.2},{"p":"t05","x":0.4,"y":-2.1},{"p":"t05","x":0.7,"y":-2.0},{"p":"t05","x":2.65,"y":-3.1},{"p":"t05","x":4.8,"y":-3.0},{"p":"t05","x":2.8,"y":-4.8},
{"p":"t05","x":2.75,"y":-2.8},{"p":"t05","x":2.35,"y":-2.5},{"p":"t05","x":2.45,"y":-3.0},{"p":"t05","x":2.85,"y":-2.2},{"p":"t05","x":2.15,"y":-2.7},{"p":"t05","x":2.05,"y":-2.3},{"p":"t05","x":3.15,"y":-3.2},{"p":"t05","x":2.45,"y":-2.0},{"p":"t05","x":2.95,"y":-2.9},{"p":"t05","x":2.85,"y":-2.6},{"p":"t05","x":3.15,"y":-2.4},{"p":"t05","x":2.25,"y":-3.1},{"p":"t05","x":3.05,"y":-2.1},{"p":"t05","x":2.55,"y":-3.3},{"p":"t05","x":2.95,"y":-1.9},{"p":"t05","x":1.85,"y":-2.8},{"p":"t05","x":3.55,"y":-2.5},{"p":"t05","x":2.05,"y":-3.5},{"p":"t05","x":1.85,"y":-1.8},{"p":"t05","x":3.35,"y":-3.0},
{"p":"t10","x":-1.5,"y":1.6},{"p":"t10","x":-1.2,"y":2.0},{"p":"t10","x":-0.9,"y":1.7},{"p":"t10","x":-0.5,"y":1.9},{"p":"t10","x":-0.2,"y":1.5},{"p":"t10","x":0.0,"y":1.8},{"p":"t10","x":0.4,"y":1.6},{"p":"t10","x":0.7,"y":1.5},{"p":"t10","x":1.0,"y":1.3},{"p":"t10","x":1.4,"y":1.1},
{"p":"t10","x":-1.8,"y":1.2},{"p":"t10","x":-1.4,"y":1.0},{"p":"t10","x":-1.1,"y":1.2},{"p":"t10","x":-0.7,"y":1.1},{"p":"t10","x":-0.4,"y":1.3},{"p":"t10","x":-0.1,"y":1.0},{"p":"t10","x":0.3,"y":1.2},{"p":"t10","x":0.6,"y":0.9},{"p":"t10","x":1.2,"y":0.8},{"p":"t10","x":1.7,"y":0.7},
{"p":"t10","x":-1.9,"y":0.6},{"p":"t10","x":-1.5,"y":0.5},{"p":"t10","x":-1.2,"y":0.7},{"p":"t10","x":-0.8,"y":0.6},{"p":"t10","x":-0.5,"y":0.4},{"p":"t10","x":-0.2,"y":0.7},{"p":"t10","x":0.1,"y":0.5},{"p":"t10","x":0.4,"y":0.6},{"p":"t10","x":0.8,"y":0.4},{"p":"t10","x":1.1,"y":0.5},
{"p":"t10","x":1.5,"y":0.3},{"p":"t10","x":1.9,"y":0.2},{"p":"t10","x":2.2,"y":0.0},{"p":"t10","x":-1.6,"y":0.0},{"p":"t10","x":-1.3,"y":-0.2},{"p":"t10","x":-0.9,"y":0.1},{"p":"t10","x":-0.6,"y":-0.1},{"p":"t10","x":-0.3,"y":0.2},{"p":"t10","x":0.0,"y":0.1},{"p":"t10","x":0.3,"y":-0.2},
{"p":"t10","x":0.6,"y":0.1},{"p":"t10","x":0.9,"y":-0.1},{"p":"t10","x":1.2,"y":0.0},{"p":"t10","x":1.6,"y":-0.3},{"p":"t10","x":2.0,"y":-0.5},{"p":"t10","x":2.4,"y":-0.7},{"p":"t10","x":2.7,"y":-0.3},{"p":"t10","x":-1.4,"y":-0.6},{"p":"t10","x":-1.0,"y":-0.5},{"p":"t10","x":-0.7,"y":-0.7},
{"p":"t10","x":-0.4,"y":-0.4},{"p":"t10","x":-0.1,"y":-0.6},{"p":"t10","x":0.2,"y":-0.5},{"p":"t10","x":0.5,"y":-0.8},{"p":"t10","x":0.8,"y":-0.6},{"p":"t10","x":1.1,"y":-0.9},{"p":"t10","x":1.4,"y":-0.7},{"p":"t10","x":1.8,"y":-1.0},{"p":"t10","x":2.1,"y":-1.3},{"p":"t10","x":2.6,"y":-1.6},
{"p":"t10","x":-1.5,"y":-1.0},{"p":"t10","x":-1.2,"y":-1.3},{"p":"t10","x":-0.8,"y":-1.1},{"p":"t10","x":-0.5,"y":-1.2},{"p":"t10","x":-0.2,"y":-1.0},{"p":"t10","x":0.1,"y":-1.3},{"p":"t10","x":0.4,"y":-1.1},{"p":"t10","x":0.7,"y":-1.4},{"p":"t10","x":1.0,"y":-1.2},{"p":"t10","x":1.3,"y":-1.5},
{"p":"t10","x":1.6,"y":-1.3},{"p":"t10","x":1.9,"y":-1.7},{"p":"t10","x":2.3,"y":-1.9},{"p":"t10","x":-1.0,"y":-1.7},{"p":"t10","x":-0.6,"y":-1.6},{"p":"t10","x":-0.3,"y":-1.9},{"p":"t10","x":0.2,"y":-1.7},{"p":"t10","x":0.6,"y":-1.9},{"p":"t10","x":0.9,"y":-2.1},{"p":"t10","x":1.2,"y":-1.9},
{"p":"t10","x":1.5,"y":-2.2},{"p":"t10","x":1.8,"y":-2.4},{"p":"t10","x":0.5,"y":-2.4},{"p":"t10","x":1.0,"y":-2.6},{"p":"t10","x":1.4,"y":-2.8},{"p":"t10","x":-1.8,"y":-1.9},{"p":"t10","x":-1.9,"y":-1.6},{"p":"t10","x":-1.3,"y":-2.1},{"p":"t10","x":3.5,"y":-1.7},{"p":"t10","x":1.5,"y":-3.4},
{"p":"t10","x":-0.9,"y":0.9},{"p":"t10","x":-0.6,"y":0.8},{"p":"t10","x":-0.3,"y":0.5},{"p":"t10","x":0.0,"y":0.3},{"p":"t10","x":0.2,"y":0.9},{"p":"t10","x":0.5,"y":0.2},{"p":"t10","x":-0.4,"y":-0.2},{"p":"t10","x":0.1,"y":-0.2},{"p":"t10","x":0.7,"y":-0.3},{"p":"t10","x":-0.8,"y":-0.3},
{"p":"t10","x":1.0,"y":1.0},{"p":"t10","x":0.9,"y":1.1},{"p":"t10","x":-1.0,"y":1.0},{"p":"t10","x":-1.1,"y":-0.9},{"p":"t10","x":1.3,"y":0.3},{"p":"t10","x":-0.1,"y":1.4},{"p":"t10","x":0.3,"y":0.0},{"p":"t10","x":0.6,"y":-1.1},{"p":"t10","x":-0.5,"y":0.0},{"p":"t10","x":0.8,"y":0.7},
{"p":"t10","x":2.8,"y":-1.1},{"p":"t10","x":2.5,"y":-0.9},{"p":"t10","x":2.0,"y":0.6},{"p":"t10","x":1.7,"y":1.2},{"p":"t10","x":-1.7,"y":1.6},{"p":"t10","x":0.0,"y":-2.2},{"p":"t10","x":-0.2,"y":2.1},{"p":"t10","x":1.1,"y":-2.3},{"p":"t10","x":2.2,"y":-2.0},{"p":"t10","x":-0.7,"y":-2.0},
{"p":"t10","x":-0.6,"y":0.5},{"p":"t10","x":-0.3,"y":0.8},{"p":"t10","x":0.0,"y":0.6},{"p":"t10","x":0.2,"y":0.3},{"p":"t10","x":-0.2,"y":0.1},{"p":"t10","x":0.4,"y":-0.4},{"p":"t10","x":0.6,"y":-0.6},{"p":"t10","x":0.9,"y":-0.8},{"p":"t10","x":1.1,"y":-0.4},{"p":"t10","x":0.3,"y":0.4},
{"p":"t10","x":-0.7,"y":0.3},{"p":"t10","x":-1.0,"y":0.4},{"p":"t10","x":-0.5,"y":1.0},{"p":"t10","x":0.1,"y":1.2},{"p":"t10","x":0.5,"y":1.1},{"p":"t10","x":0.7,"y":0.2},{"p":"t10","x":1.0,"y":-1.4},{"p":"t10","x":0.8,"y":-1.7},{"p":"t10","x":0.4,"y":-1.5},{"p":"t10","x":0.0,"y":-0.9},
{"p":"t10","x":-0.4,"y":-0.9},{"p":"t10","x":-0.9,"y":-0.4},{"p":"t10","x":-1.2,"y":0.2},{"p":"t10","x":-1.5,"y":0.9},{"p":"t10","x":1.5,"y":-0.5},{"p":"t10","x":1.8,"y":-0.7},{"p":"t10","x":2.0,"y":-1.1},{"p":"t10","x":1.3,"y":-1.1},{"p":"t10","x":-0.2,"y":-1.4},{"p":"t10","x":0.2,"y":-1.9},
{"p":"t40","x":-2.7,"y":1.8},{"p":"t40","x":-2.4,"y":1.5},{"p":"t40","x":-2.2,"y":1.1},{"p":"t40","x":-2.5,"y":0.9},{"p":"t40","x":-2.0,"y":1.7},{"p":"t40","x":-1.8,"y":1.3},{"p":"t40","x":-1.6,"y":0.9},{"p":"t40","x":-1.9,"y":0.5},{"p":"t40","x":-1.5,"y":2.0},{"p":"t40","x":-1.3,"y":1.5},
{"p":"t40","x":-1.1,"y":1.1},{"p":"t40","x":-1.4,"y":0.7},{"p":"t40","x":-1.0,"y":1.8},{"p":"t40","x":-0.8,"y":1.4},{"p":"t40","x":-0.6,"y":1.0},{"p":"t40","x":-0.9,"y":0.6},{"p":"t40","x":-0.5,"y":2.2},{"p":"t40","x":-0.3,"y":1.6},{"p":"t40","x":-0.1,"y":1.2},{"p":"t40","x":-0.4,"y":0.8},
{"p":"t40","x":0.0,"y":2.4},{"p":"t40","x":0.2,"y":1.8},{"p":"t40","x":0.4,"y":1.4},{"p":"t40","x":0.1,"y":1.0},{"p":"t40","x":0.5,"y":0.7},{"p":"t40","x":0.7,"y":1.9},{"p":"t40","x":0.9,"y":1.5},{"p":"t40","x":1.1,"y":1.1},{"p":"t40","x":0.8,"y":0.8},{"p":"t40","x":1.3,"y":1.7},
{"p":"t40","x":1.5,"y":1.3},{"p":"t40","x":1.7,"y":0.9},{"p":"t40","x":1.4,"y":0.5},{"p":"t40","x":1.9,"y":1.5},{"p":"t40","x":2.1,"y":1.1},{"p":"t40","x":2.3,"y":0.7},{"p":"t40","x":2.0,"y":0.4},{"p":"t40","x":2.5,"y":1.2},{"p":"t40","x":2.7,"y":0.6},{"p":"t40","x":2.9,"y":0.3},
{"p":"t40","x":-2.3,"y":1.9},{"p":"t40","x":-1.7,"y":1.9},{"p":"t40","x":-1.2,"y":1.3},{"p":"t40","x":-0.7,"y":1.2},{"p":"t40","x":-0.2,"y":1.4},{"p":"t40","x":0.3,"y":1.1},{"p":"t40","x":0.6,"y":1.3},{"p":"t40","x":1.0,"y":0.9},{"p":"t40","x":1.2,"y":1.4},{"p":"t40","x":1.6,"y":1.0},
{"p":"t40","x":-2.0,"y":1.0},{"p":"t40","x":-1.5,"y":1.1},{"p":"t40","x":-1.0,"y":0.9},{"p":"t40","x":-0.5,"y":1.1},{"p":"t40","x":0.0,"y":0.9},{"p":"t40","x":0.4,"y":0.9},{"p":"t40","x":0.9,"y":1.1},{"p":"t40","x":1.4,"y":0.9},{"p":"t40","x":1.8,"y":0.6},{"p":"t40","x":2.2,"y":1.4},
{"p":"t40","x":-1.2,"y":0.4},{"p":"t40","x":-0.7,"y":0.5},{"p":"t40","x":-0.2,"y":0.6},{"p":"t40","x":0.3,"y":0.5},{"p":"t40","x":0.8,"y":0.4},{"p":"t40","x":1.2,"y":0.2},{"p":"t40","x":-1.6,"y":0.3},{"p":"t40","x":-2.6,"y":1.4},{"p":"t40","x":-0.9,"y":1.6},{"p":"t40","x":0.1,"y":1.6},
{"p":"t40","x":-1.4,"y":0.0},{"p":"t40","x":-1.0,"y":-0.1},{"p":"t40","x":-0.6,"y":-0.2},{"p":"t40","x":-0.2,"y":-0.3},{"p":"t40","x":0.2,"y":-0.3},{"p":"t40","x":0.8,"y":-0.5},{"p":"t40","x":-1.3,"y":-0.5},{"p":"t40","x":-0.9,"y":-0.6},{"p":"t40","x":-0.5,"y":-0.7},{"p":"t40","x":-0.1,"y":-0.8},
{"p":"t40","x":0.5,"y":-0.9},{"p":"t40","x":1.0,"y":-1.0},{"p":"t40","x":-1.7,"y":-0.9},{"p":"t40","x":-1.2,"y":-1.0},{"p":"t40","x":-0.8,"y":-1.1},{"p":"t40","x":-0.4,"y":-1.2},{"p":"t40","x":0.0,"y":-1.3},{"p":"t40","x":-1.5,"y":-1.4},{"p":"t40","x":-1.0,"y":-1.5},{"p":"t40","x":-0.6,"y":-1.6},
{"p":"t40","x":-0.2,"y":-1.7},{"p":"t40","x":0.3,"y":-1.5},{"p":"t40","x":-1.3,"y":-1.8},{"p":"t40","x":-0.9,"y":-2.0},{"p":"t40","x":-0.5,"y":-2.1},{"p":"t40","x":-1.9,"y":-1.7},{"p":"t40","x":-2.3,"y":-2.1},{"p":"t40","x":-2.3,"y":-2.3},{"p":"t40","x":-2.0,"y":-2.4},{"p":"t40","x":-1.3,"y":-2.5},
{"p":"t40","x":-0.8,"y":-1.3},{"p":"t40","x":-1.1,"y":-0.8},{"p":"t40","x":-0.7,"y":-0.4},{"p":"t40","x":-1.6,"y":-1.1},{"p":"t40","x":0.6,"y":-0.6},{"p":"t40","x":1.5,"y":-0.9},{"p":"t40","x":-0.3,"y":-2.3},{"p":"t40","x":-1.7,"y":-2.2},{"p":"t40","x":2.8,"y":0.3},{"p":"t40","x":-0.4,"y":-0.3},
{"p":"t40","x":-1.0,"y":-1.2},{"p":"t40","x":-0.6,"y":-0.9},{"p":"t40","x":-1.4,"y":-0.3},{"p":"t40","x":-0.3,"y":-0.5},{"p":"t40","x":0.1,"y":-0.1},{"p":"t40","x":-2.1,"y":-0.4},{"p":"t40","x":-0.9,"y":-1.8},{"p":"t40","x":-0.2,"y":-1.0},{"p":"t40","x":0.4,"y":-1.2},{"p":"t40","x":-1.2,"y":-2.2},
{"p":"t40","x":-1.6,"y":1.4},{"p":"t40","x":-1.3,"y":1.8},{"p":"t40","x":-1.1,"y":1.6},{"p":"t40","x":-0.8,"y":1.9},{"p":"t40","x":-0.6,"y":1.5},{"p":"t40","x":-1.9,"y":0.8},{"p":"t40","x":-2.2,"y":1.3},{"p":"t40","x":-1.4,"y":0.5},{"p":"t40","x":-0.3,"y":0.9},{"p":"t40","x":0.2,"y":1.3},
{"p":"t40","x":0.6,"y":1.6},{"p":"t40","x":1.0,"y":1.3},{"p":"t40","x":1.3,"y":0.7},{"p":"t40","x":1.7,"y":1.3},{"p":"t40","x":2.4,"y":0.9},{"p":"t40","x":-1.1,"y":-0.3},{"p":"t40","x":-0.8,"y":-0.8},{"p":"t40","x":-1.3,"y":-1.2},{"p":"t40","x":-0.7,"y":-1.4},{"p":"t40","x":-1.1,"y":-1.7},
{"p":"t40","x":-0.5,"y":-1.9},{"p":"t40","x":-1.6,"y":-1.6},{"p":"t40","x":0.2,"y":-0.7},{"p":"t40","x":-0.1,"y":-1.5},{"p":"t40","x":-1.8,"y":0.2},{"p":"t40","x":-0.5,"y":0.3},{"p":"t40","x":0.7,"y":0.2},{"p":"t40","x":1.9,"y":0.9},{"p":"t40","x":-2.5,"y":1.7},{"p":"t40","x":0.5,"y":2.0}
],
"lines": [
{"m":"m1","t":0,"e":3.0,"g":3.0},{"m":"m1","t":0.008,"e":3.0,"g":3.0},{"m":"m1","t":0.016,"e":2.97,"g":2.98},{"m":"m1","t":0.024,"e":2.93,"g":2.94},{"m":"m1","t":0.032,"e":2.88,"g":2.89},{"m":"m1","t":0.04,"e":2.82,"g":2.83},{"m":"m1","t":0.048,"e":2.73,"g":2.74},{"m":"m1","t":0.056,"e":2.6,"g":2.6},{"m":"m1","t":0.064,"e":2.42,"g":2.42},{"m":"m1","t":0.072,"e":2.17,"g":2.15},{"m":"m1","t":0.08,"e":1.75,"g":1.65},{"m":"m1","t":0.088,"e":1.15,"g":1.0},{"m":"m1","t":0.096,"e":0.65,"g":0.55},{"m":"m1","t":0.104,"e":0.62,"g":0.5},{"m":"m1","t":0.112,"e":0.9,"g":0.8},{"m":"m1","t":0.12,"e":1.2,"g":1.15},{"m":"m1","t":0.128,"e":1.32,"g":1.3},{"m":"m1","t":0.136,"e":1.25,"g":1.22},{"m":"m1","t":0.144,"e":1.08,"g":1.08},{"m":"m1","t":0.152,"e":1.02,"g":1.0},{"m":"m1","t":0.16,"e":1.03,"g":0.98},{"m":"m1","t":0.168,"e":1.05,"g":1.0},{"m":"m1","t":0.176,"e":1.05,"g":1.0},{"m":"m1","t":0.184,"e":1.04,"g":1.0},{"m":"m1","t":0.192,"e":1.02,"g":0.99},{"m":"m1","t":0.2,"e":1.0,"g":1.0},{"m":"m1","t":0.208,"e":1.0,"g":1.0},{"m":"m1","t":0.216,"e":1.01,"g":1.0},{"m":"m1","t":0.224,"e":1.03,"g":1.0},{"m":"m1","t":0.232,"e":1.05,"g":1.01},{"m":"m1","t":0.24,"e":1.06,"g":1.02},{"m":"m1","t":0.248,"e":1.07,"g":1.03},{"m":"m1","t":0.256,"e":1.07,"g":1.02},{"m":"m1","t":0.264,"e":1.06,"g":1.01},{"m":"m1","t":0.272,"e":1.05,"g":1.0},{"m":"m1","t":0.28,"e":1.05,"g":1.0},{"m":"m1","t":0.288,"e":1.05,"g":1.0},{"m":"m1","t":0.296,"e":1.06,"g":1.0},{"m":"m1","t":0.304,"e":1.07,"g":1.01},{"m":"m1","t":0.312,"e":1.08,"g":1.01},{"m":"m1","t":0.32,"e":1.09,"g":1.02},{"m":"m1","t":0.328,"e":1.1,"g":1.02},{"m":"m1","t":0.336,"e":1.11,"g":1.02},{"m":"m1","t":0.344,"e":1.12,"g":1.01},{"m":"m1","t":0.352,"e":1.12,"g":1.0},{"m":"m1","t":0.36,"e":1.12,"g":1.0},{"m":"m1","t":0.368,"e":1.11,"g":1.0},{"m":"m1","t":0.376,"e":1.1,"g":1.0},{"m":"m1","t":0.384,"e":1.1,"g":1.0},{"m":"m1","t":0.392,"e":1.1,"g":1.0},{"m":"m1","t":0.4,"e":1.1,"g":1.0},
{"m":"m2","t":0,"e":-3.0,"g":3.0},{"m":"m2","t":0.008,"e":-3.0,"g":2.95},{"m":"m2","t":0.016,"e":-2.98,"g":2.9},{"m":"m2","t":0.024,"e":-2.95,"g":2.85},{"m":"m2","t":0.032,"e":-2.92,"g":2.8},{"m":"m2","t":0.04,"e":-2.88,"g":2.75},{"m":"m2","t":0.048,"e":-2.82,"g":2.65},{"m":"m2","t":0.056,"e":-2.74,"g":2.5},{"m":"m2","t":0.064,"e":-2.6,"g":2.3},{"m":"m2","t":0.072,"e":-2.4,"g":2.05},{"m":"m2","t":0.08,"e":-2.05,"g":1.6},{"m":"m2","t":0.088,"e":-1.5,"g":1.1},{"m":"m2","t":0.096,"e":-0.95,"g":0.7},{"m":"m2","t":0.104,"e":-0.75,"g":0.6},{"m":"m2","t":0.112,"e":-0.85,"g":0.75},{"m":"m2","t":0.12,"e":-1.0,"g":0.95},{"m":"m2","t":0.128,"e":-1.1,"g":1.05},{"m":"m2","t":0.136,"e":-1.12,"g":1.05},{"m":"m2","t":0.144,"e":-1.05,"g":1.0},{"m":"m2","t":0.152,"e":-1.02,"g":0.95},{"m":"m2","t":0.16,"e":-1.1,"g":1.05},{"m":"m2","t":0.168,"e":-1.25,"g":1.3},{"m":"m2","t":0.176,"e":-1.45,"g":1.55},{"m":"m2","t":0.184,"e":-1.6,"g":1.7},{"m":"m2","t":0.192,"e":-1.65,"g":1.7},{"m":"m2","t":0.2,"e":-1.58,"g":1.55},{"m":"m2","t":0.208,"e":-1.45,"g":1.35},{"m":"m2","t":0.216,"e":-1.32,"g":1.2},{"m":"m2","t":0.224,"e":-1.25,"g":1.1},{"m":"m2","t":0.232,"e":-1.22,"g":1.1},{"m":"m2","t":0.24,"e":-1.2,"g":1.15},{"m":"m2","t":0.248,"e":-1.2,"g":1.2},{"m":"m2","t":0.256,"e":-1.22,"g":1.25},{"m":"m2","t":0.264,"e":-1.24,"g":1.3},{"m":"m2","t":0.272,"e":-1.25,"g":1.3},{"m":"m2","t":0.28,"e":-1.26,"g":1.3},{"m":"m2","t":0.288,"e":-1.27,"g":1.28},{"m":"m2","t":0.296,"e":-1.28,"g":1.25},{"m":"m2","t":0.304,"e":-1.3,"g":1.2},{"m":"m2","t":0.312,"e":-1.32,"g":1.15},{"m":"m2","t":0.32,"e":-1.34,"g":1.1},{"m":"m2","t":0.328,"e":-1.36,"g":1.08},{"m":"m2","t":0.336,"e":-1.38,"g":1.05},{"m":"m2","t":0.344,"e":-1.4,"g":1.03},{"m":"m2","t":0.352,"e":-1.42,"g":1.0},{"m":"m2","t":0.36,"e":-1.44,"g":0.98},{"m":"m2","t":0.368,"e":-1.45,"g":0.95},{"m":"m2","t":0.376,"e":-1.46,"g":0.9},{"m":"m2","t":0.384,"e":-1.47,"g":0.85},{"m":"m2","t":0.392,"e":-1.48,"g":0.78},{"m":"m2","t":0.4,"e":-1.5,"g":0.72},
{"m":"m3","t":0,"e":-3.0,"g":-3.0},{"m":"m3","t":0.008,"e":-3.0,"g":-3.0},{"m":"m3","t":0.016,"e":-2.98,"g":-2.99},{"m":"m3","t":0.024,"e":-2.95,"g":-2.96},{"m":"m3","t":0.032,"e":-2.92,"g":-2.92},{"m":"m3","t":0.04,"e":-2.87,"g":-2.87},{"m":"m3","t":0.048,"e":-2.8,"g":-2.8},{"m":"m3","t":0.056,"e":-2.7,"g":-2.7},{"m":"m3","t":0.064,"e":-2.55,"g":-2.55},{"m":"m3","t":0.072,"e":-2.3,"g":-2.3},{"m":"m3","t":0.08,"e":-1.9,"g":-1.85},{"m":"m3","t":0.088,"e":-1.35,"g":-1.3},{"m":"m3","t":0.096,"e":-0.8,"g":-0.8},{"m":"m3","t":0.104,"e":-0.6,"g":-0.62},{"m":"m3","t":0.112,"e":-0.8,"g":-0.85},{"m":"m3","t":0.12,"e":-1.1,"g":-1.1},{"m":"m3","t":0.128,"e":-1.35,"g":-1.3},{"m":"m3","t":0.136,"e":-1.3,"g":-1.28},{"m":"m3","t":0.144,"e":-1.15,"g":-1.12},{"m":"m3","t":0.152,"e":-1.0,"g":-1.0},{"m":"m3","t":0.16,"e":-0.93,"g":-0.97},{"m":"m3","t":0.168,"e":-0.93,"g":-1.05},{"m":"m3","t":0.176,"e":-0.95,"g":-1.02},{"m":"m3","t":0.184,"e":-0.97,"g":-1.0},{"m":"m3","t":0.192,"e":-0.98,"g":-1.0},{"m":"m3","t":0.2,"e":-0.99,"g":-1.0},{"m":"m3","t":0.208,"e":-1.0,"g":-1.0},{"m":"m3","t":0.216,"e":-1.0,"g":-1.0},{"m":"m3","t":0.224,"e":-1.01,"g":-1.0},{"m":"m3","t":0.232,"e":-1.02,"g":-1.01},{"m":"m3","t":0.24,"e":-1.03,"g":-1.02},{"m":"m3","t":0.248,"e":-1.04,"g":-1.04},{"m":"m3","t":0.256,"e":-1.04,"g":-1.05},{"m":"m3","t":0.264,"e":-1.03,"g":-1.03},{"m":"m3","t":0.272,"e":-1.02,"g":-1.0},{"m":"m3","t":0.28,"e":-1.0,"g":-1.0},{"m":"m3","t":0.288,"e":-0.99,"g":-1.0},{"m":"m3","t":0.296,"e":-0.98,"g":-1.0},{"m":"m3","t":0.304,"e":-0.98,"g":-1.0},{"m":"m3","t":0.312,"e":-0.98,"g":-1.0},{"m":"m3","t":0.32,"e":-0.98,"g":-1.0},{"m":"m3","t":0.328,"e":-0.98,"g":-1.0},{"m":"m3","t":0.336,"e":-0.98,"g":-1.0},{"m":"m3","t":0.344,"e":-0.98,"g":-1.0},{"m":"m3","t":0.352,"e":-0.98,"g":-1.0},{"m":"m3","t":0.36,"e":-0.98,"g":-1.0},{"m":"m3","t":0.368,"e":-0.98,"g":-1.0},{"m":"m3","t":0.376,"e":-0.98,"g":-1.0},{"m":"m3","t":0.384,"e":-0.98,"g":-1.0},{"m":"m3","t":0.392,"e":-0.98,"g":-1.0},{"m":"m3","t":0.4,"e":-0.98,"g":-1.0},
{"m":"m4","t":0,"e":3.0,"g":-3.1},{"m":"m4","t":0.008,"e":3.0,"g":-3.1},{"m":"m4","t":0.016,"e":2.98,"g":-3.05},{"m":"m4","t":0.024,"e":2.95,"g":-3.0},{"m":"m4","t":0.032,"e":2.9,"g":-2.95},{"m":"m4","t":0.04,"e":2.83,"g":-2.85},{"m":"m4","t":0.048,"e":2.75,"g":-2.75},{"m":"m4","t":0.056,"e":2.63,"g":-2.62},{"m":"m4","t":0.064,"e":2.5,"g":-2.45},{"m":"m4","t":0.072,"e":2.33,"g":-2.28},{"m":"m4","t":0.08,"e":2.12,"g":-2.1},{"m":"m4","t":0.088,"e":1.9,"g":-1.85},{"m":"m4","t":0.096,"e":1.68,"g":-1.62},{"m":"m4","t":0.104,"e":1.48,"g":-1.4},{"m":"m4","t":0.112,"e":1.28,"g":-1.2},{"m":"m4","t":0.12,"e":1.05,"g":-0.95},{"m":"m4","t":0.128,"e":0.78,"g":-0.65},{"m":"m4","t":0.136,"e":0.45,"g":-0.3},{"m":"m4","t":0.144,"e":0.05,"g":0.05},{"m":"m4","t":0.152,"e":-0.4,"g":0.4},{"m":"m4","t":0.16,"e":-0.75,"g":0.65},{"m":"m4","t":0.168,"e":-0.95,"g":0.78},{"m":"m4","t":0.176,"e":-1.0,"g":0.8},{"m":"m4","t":0.184,"e":-0.95,"g":0.8},{"m":"m4","t":0.192,"e":-0.88,"g":0.78},{"m":"m4","t":0.2,"e":-0.82,"g":0.76},{"m":"m4","t":0.208,"e":-0.78,"g":0.75},{"m":"m4","t":0.216,"e":-0.76,"g":0.75},{"m":"m4","t":0.224,"e":-0.74,"g":0.74},{"m":"m4","t":0.232,"e":-0.72,"g":0.74},{"m":"m4","t":0.24,"e":-0.7,"g":0.75},{"m":"m4","t":0.248,"e":-0.69,"g":0.75},{"m":"m4","t":0.256,"e":-0.68,"g":0.76},{"m":"m4","t":0.264,"e":-0.67,"g":0.77},{"m":"m4","t":0.272,"e":-0.66,"g":0.78},{"m":"m4","t":0.28,"e":-0.65,"g":0.79},{"m":"m4","t":0.288,"e":-0.64,"g":0.8},{"m":"m4","t":0.296,"e":-0.63,"g":0.81},{"m":"m4","t":0.304,"e":-0.62,"g":0.82},{"m":"m4","t":0.312,"e":-0.61,"g":0.84},{"m":"m4","t":0.32,"e":-0.6,"g":0.86},{"m":"m4","t":0.328,"e":-0.59,"g":0.88},{"m":"m4","t":0.336,"e":-0.58,"g":0.9},{"m":"m4","t":0.344,"e":-0.57,"g":0.93},{"m":"m4","t":0.352,"e":-0.56,"g":0.96},{"m":"m4","t":0.36,"e":-0.55,"g":0.99},{"m":"m4","t":0.368,"e":-0.54,"g":1.02},{"m":"m4","t":0.376,"e":-0.53,"g":1.06},{"m":"m4","t":0.384,"e":-0.52,"g":1.1},{"m":"m4","t":0.392,"e":-0.51,"g":1.14},{"m":"m4","t":0.4,"e":-0.5,"g":1.18}
]
},
"hconcat": [
{"hconcat": [
 {"vconcat": [
  {"hconcat": [
   {"width": 214, "height": 153, "title": {"text": "Time = 0.00 s"},
    "layer": [
     {"data": {"name": "blobs"}, "transform": [{"filter": "datum.p === 't0'"}],
      "mark": {"type": "point", "shape": "M1,0L0.966,0.197L0.866,0.38L0.707,0.537L0.5,0.658L0.259,0.734L0,0.76L-0.259,0.734L-0.5,0.658L-0.707,0.537L-0.866,0.38L-0.966,0.197L-1,0L-0.966,-0.197L-0.866,-0.38L-0.707,-0.537L-0.5,-0.658L-0.259,-0.734L0,-0.76L0.259,-0.734L0.5,-0.658L0.707,-0.537L0.866,-0.38L0.966,-0.197Z", "filled": true, "opacity": 1, "strokeWidth": 0},
      "encoding": {
       "x": {"field": "x", "type": "quantitative", "scale": {"domain": [-5, 5], "nice": false, "zero": false}, "axis": {"values": [-5, 0, 5], "labelExpr": "datum.value + ''", "title": "x (m)", "grid": true, "gridDash": [1, 2], "gridColor": "#aaaaaa", "gridOpacity": {"condition": {"test": "datum.value === 0", "value": 1}, "value": 0}}},
       "y": {"field": "y", "type": "quantitative", "scale": {"domain": [-5, 5], "nice": false, "zero": false}, "axis": {"values": [-5, 0, 5], "labelExpr": "datum.value + ''", "title": "y (m)", "grid": true, "gridDash": [1, 2], "gridColor": "#aaaaaa", "gridOpacity": {"condition": {"test": "datum.value === 0", "value": 1}, "value": 0}}},
       "color": {"field": "d", "type": "quantitative", "scale": {"type": "linear", "domain": [0.005, 0.0202, 0.0354, 0.0506, 0.0658, 0.0809, 0.0961, 0.1113, 0.1265], "range": ["#352a87", "#0f5cdd", "#1481d6", "#06a4ca", "#2eb7a4", "#87bf77", "#d1bb59", "#fec832", "#f9fb0e"]}, "legend": null},
       "size": {"field": "d", "type": "quantitative", "scale": {"type": "log", "domain": [0.005, 0.1265], "range": [4900, 0], "nice": false}, "legend": null},
       "order": {"field": "d", "type": "quantitative", "sort": "ascending"}
      }},
     {"data": {"name": "dots"}, "transform": [{"filter": "datum.p === 't0'"}],
      "mark": {"type": "point", "filled": true, "color": "#ff0000", "opacity": 1, "size": 9, "strokeWidth": 0},
      "encoding": {"x": {"field": "x", "type": "quantitative"}, "y": {"field": "y", "type": "quantitative"}}},
     {"data": {"name": "agents"},
      "mark": {"type": "point", "shape": "cross", "angle": 45, "filled": true, "color": "#000000", "opacity": 1, "size": 55},
      "encoding": {"x": {"field": "x", "type": "quantitative"}, "y": {"field": "y", "type": "quantitative"}}}
    ]},
   {"width": 214, "height": 153, "title": {"text": "Time = 0.05 s"},
    "layer": [
     {"data": {"name": "blobs"}, "transform": [{"filter": "datum.p === 't05'"}],
      "mark": {"type": "point", "shape": "M1,0L0.966,0.197L0.866,0.38L0.707,0.537L0.5,0.658L0.259,0.734L0,0.76L-0.259,0.734L-0.5,0.658L-0.707,0.537L-0.866,0.38L-0.966,0.197L-1,0L-0.966,-0.197L-0.866,-0.38L-0.707,-0.537L-0.5,-0.658L-0.259,-0.734L0,-0.76L0.259,-0.734L0.5,-0.658L0.707,-0.537L0.866,-0.38L0.966,-0.197Z", "filled": true, "opacity": 1, "strokeWidth": 0},
      "encoding": {
       "x": {"field": "x", "type": "quantitative", "scale": {"domain": [-5, 5], "nice": false, "zero": false}, "axis": {"values": [-5, 0, 5], "labelExpr": "datum.value + ''", "title": "x (m)", "grid": true, "gridDash": [1, 2], "gridColor": "#aaaaaa", "gridOpacity": {"condition": {"test": "datum.value === 0", "value": 1}, "value": 0}}},
       "y": {"field": "y", "type": "quantitative", "scale": {"domain": [-5, 5], "nice": false, "zero": false}, "axis": {"values": [-5, 0, 5], "labelExpr": "datum.value + ''", "title": "y (m)", "grid": true, "gridDash": [1, 2], "gridColor": "#aaaaaa", "gridOpacity": {"condition": {"test": "datum.value === 0", "value": 1}, "value": 0}}},
       "color": {"field": "d", "type": "quantitative", "scale": {"type": "linear", "domain": [0.005, 0.0202, 0.0354, 0.0506, 0.0658, 0.0809, 0.0961, 0.1113, 0.1265], "range": ["#352a87", "#0f5cdd", "#1481d6", "#06a4ca", "#2eb7a4", "#87bf77", "#d1bb59", "#fec832", "#f9fb0e"]}, "legend": null},
       "size": {"field": "d", "type": "quantitative", "scale": {"type": "log", "domain": [0.005, 0.1265], "range": [4900, 0], "nice": false}, "legend": null},
       "order": {"field": "d", "type": "quantitative", "sort": "ascending"}
      }},
     {"data": {"name": "dots"}, "transform": [{"filter": "datum.p === 't05'"}],
      "mark": {"type": "point", "filled": true, "color": "#ff0000", "opacity": 1, "size": 9, "strokeWidth": 0},
      "encoding": {"x": {"field": "x", "type": "quantitative"}, "y": {"field": "y", "type": "quantitative"}}},
     {"data": {"name": "agents"},
      "mark": {"type": "point", "shape": "cross", "angle": 45, "filled": true, "color": "#000000", "opacity": 1, "size": 55},
      "encoding": {"x": {"field": "x", "type": "quantitative"}, "y": {"field": "y", "type": "quantitative"}}}
    ]}
  ], "spacing": 18},
  {"hconcat": [
   {"width": 214, "height": 153, "title": {"text": "Time = 0.10 s"},
    "layer": [
     {"data": {"name": "blobs"}, "transform": [{"filter": "datum.p === 't10'"}],
      "mark": {"type": "point", "shape": "M1,0L0.966,0.197L0.866,0.38L0.707,0.537L0.5,0.658L0.259,0.734L0,0.76L-0.259,0.734L-0.5,0.658L-0.707,0.537L-0.866,0.38L-0.966,0.197L-1,0L-0.966,-0.197L-0.866,-0.38L-0.707,-0.537L-0.5,-0.658L-0.259,-0.734L0,-0.76L0.259,-0.734L0.5,-0.658L0.707,-0.537L0.866,-0.38L0.966,-0.197Z", "filled": true, "opacity": 1, "strokeWidth": 0},
      "encoding": {
       "x": {"field": "x", "type": "quantitative", "scale": {"domain": [-5, 5], "nice": false, "zero": false}, "axis": {"values": [-5, 0, 5], "labelExpr": "datum.value + ''", "title": "x (m)", "grid": true, "gridDash": [1, 2], "gridColor": "#aaaaaa", "gridOpacity": {"condition": {"test": "datum.value === 0", "value": 1}, "value": 0}}},
       "y": {"field": "y", "type": "quantitative", "scale": {"domain": [-5, 5], "nice": false, "zero": false}, "axis": {"values": [-5, 0, 5], "labelExpr": "datum.value + ''", "title": "y (m)", "grid": true, "gridDash": [1, 2], "gridColor": "#aaaaaa", "gridOpacity": {"condition": {"test": "datum.value === 0", "value": 1}, "value": 0}}},
       "color": {"field": "d", "type": "quantitative", "scale": {"type": "linear", "domain": [0.005, 0.0202, 0.0354, 0.0506, 0.0658, 0.0809, 0.0961, 0.1113, 0.1265], "range": ["#352a87", "#0f5cdd", "#1481d6", "#06a4ca", "#2eb7a4", "#87bf77", "#d1bb59", "#fec832", "#f9fb0e"]}, "legend": null},
       "size": {"field": "d", "type": "quantitative", "scale": {"type": "log", "domain": [0.005, 0.1265], "range": [4900, 0], "nice": false}, "legend": null},
       "order": {"field": "d", "type": "quantitative", "sort": "ascending"}
      }},
     {"data": {"name": "dots"}, "transform": [{"filter": "datum.p === 't10'"}],
      "mark": {"type": "point", "filled": true, "color": "#ff0000", "opacity": 1, "size": 9, "strokeWidth": 0},
      "encoding": {"x": {"field": "x", "type": "quantitative"}, "y": {"field": "y", "type": "quantitative"}}},
     {"data": {"name": "agents"},
      "mark": {"type": "point", "shape": "cross", "angle": 45, "filled": true, "color": "#000000", "opacity": 1, "size": 55},
      "encoding": {"x": {"field": "x", "type": "quantitative"}, "y": {"field": "y", "type": "quantitative"}}}
    ]},
   {"width": 214, "height": 153, "title": {"text": "Time = 0.40 s"},
    "layer": [
     {"data": {"name": "blobs"}, "transform": [{"filter": "datum.p === 't40'"}],
      "mark": {"type": "point", "shape": "M1,0L0.966,0.197L0.866,0.38L0.707,0.537L0.5,0.658L0.259,0.734L0,0.76L-0.259,0.734L-0.5,0.658L-0.707,0.537L-0.866,0.38L-0.966,0.197L-1,0L-0.966,-0.197L-0.866,-0.38L-0.707,-0.537L-0.5,-0.658L-0.259,-0.734L0,-0.76L0.259,-0.734L0.5,-0.658L0.707,-0.537L0.866,-0.38L0.966,-0.197Z", "filled": true, "opacity": 1, "strokeWidth": 0},
      "encoding": {
       "x": {"field": "x", "type": "quantitative", "scale": {"domain": [-5, 5], "nice": false, "zero": false}, "axis": {"values": [-5, 0, 5], "labelExpr": "datum.value + ''", "title": "x (m)", "grid": true, "gridDash": [1, 2], "gridColor": "#aaaaaa", "gridOpacity": {"condition": {"test": "datum.value === 0", "value": 1}, "value": 0}}},
       "y": {"field": "y", "type": "quantitative", "scale": {"domain": [-5, 5], "nice": false, "zero": false}, "axis": {"values": [-5, 0, 5], "labelExpr": "datum.value + ''", "title": "y (m)", "grid": true, "gridDash": [1, 2], "gridColor": "#aaaaaa", "gridOpacity": {"condition": {"test": "datum.value === 0", "value": 1}, "value": 0}}},
       "color": {"field": "d", "type": "quantitative", "scale": {"type": "linear", "domain": [0.005, 0.0202, 0.0354, 0.0506, 0.0658, 0.0809, 0.0961, 0.1113, 0.1265], "range": ["#352a87", "#0f5cdd", "#1481d6", "#06a4ca", "#2eb7a4", "#87bf77", "#d1bb59", "#fec832", "#f9fb0e"]}, "legend": null},
       "size": {"field": "d", "type": "quantitative", "scale": {"type": "log", "domain": [0.005, 0.1265], "range": [4900, 0], "nice": false}, "legend": null},
       "order": {"field": "d", "type": "quantitative", "sort": "ascending"}
      }},
     {"data": {"name": "dots"}, "transform": [{"filter": "datum.p === 't40'"}],
      "mark": {"type": "point", "filled": true, "color": "#ff0000", "opacity": 1, "size": 9, "strokeWidth": 0},
      "encoding": {"x": {"field": "x", "type": "quantitative"}, "y": {"field": "y", "type": "quantitative"}}},
     {"data": {"name": "agents"},
      "mark": {"type": "point", "shape": "cross", "angle": 45, "filled": true, "color": "#000000", "opacity": 1, "size": 55},
      "encoding": {"x": {"field": "x", "type": "quantitative"}, "y": {"field": "y", "type": "quantitative"}}}
    ]}
  ], "spacing": 18}
 ], "spacing": 1,
 "title": {"text": "(a)  L²₂+ Quadratic Distance Trajectory", "orient": "bottom", "anchor": "middle", "fontSize": 21, "offset": 26, "dx": 23}},
 {"width": 20, "height": 380,
  "title": {"text": " ", "fontSize": 17, "offset": -3},
  "data": {"name": "cbar"},
  "mark": {"type": "rect", "color": {"gradient": "linear", "x1": 0, "y1": 1, "x2": 0, "y2": 0, "stops": [{"offset": 0, "color": "#352a87"}, {"offset": 0.125, "color": "#0f5cdd"}, {"offset": 0.25, "color": "#1481d6"}, {"offset": 0.375, "color": "#06a4ca"}, {"offset": 0.5, "color": "#2eb7a4"}, {"offset": 0.625, "color": "#87bf77"}, {"offset": 0.75, "color": "#d1bb59"}, {"offset": 0.875, "color": "#fec832"}, {"offset": 1, "color": "#f9fb0e"}]}},
  "encoding": {
   "y": {"field": "lo", "type": "quantitative", "scale": {"domain": [0.005, 0.1265], "nice": false, "zero": false}, "axis": {"orient": "right", "values": [0.02, 0.04, 0.06, 0.08, 0.1, 0.12], "labelExpr": "datum.value + ''", "title": null, "grid": false}},
   "y2": {"field": "hi"}
  }}
], "spacing": 2},
{"vconcat": [
 {"width": 450, "height": 46, "title": {"text": " ", "fontSize": 17, "offset": -3},
  "layer": [
   {"data": {"name": "lines"}, "transform": [{"filter": "datum.m === 'm1'"}],
    "mark": {"type": "line", "color": "#0000ff", "strokeWidth": 4},
    "encoding": {
     "x": {"field": "t", "type": "quantitative", "scale": {"domain": [0, 0.4], "nice": false}, "axis": {"values": [0, 0.05, 0.1, 0.15, 0.2, 0.25, 0.3, 0.35, 0.4], "labelExpr": "datum.value + ''", "title": "Time (s)", "titleFontSize": 20, "labelFontSize": 13, "grid": true, "gridColor": "#e3e3e3", "gridOpacity": {"condition": {"test": "datum.value > 0.001 && datum.value < 0.399", "value": 1}, "value": 0}}},
     "y": {"field": "e", "type": "quantitative", "scale": {"domain": [0, 4], "nice": false, "zero": false}, "axis": {"values": [0, 2, 4], "labelExpr": "datum.value + ''", "title": "m₁ (m)", "labelFontSize": 13, "grid": true, "gridColor": "#e3e3e3", "gridOpacity": {"condition": {"test": "datum.value > 0.01 && datum.value < 3.99", "value": 1}, "value": 0}}}
    }},
   {"data": {"name": "refs"}, "transform": [{"filter": "datum.m === 'm1'"}],
    "mark": {"type": "rule", "color": "#ff0000", "strokeDash": [5, 3], "strokeWidth": 1.3},
    "encoding": {"y": {"field": "r", "type": "quantitative"}}},
   {"data": {"name": "lines"}, "transform": [{"filter": "datum.m === 'm1'"}],
    "mark": {"type": "point", "filled": true, "color": "#00ee00", "opacity": 1, "size": 13, "strokeWidth": 0},
    "encoding": {"x": {"field": "t", "type": "quantitative"}, "y": {"field": "g", "type": "quantitative"}}}
  ]},
 {"width": 450, "height": 47,
  "layer": [
   {"data": {"name": "lines"}, "transform": [{"filter": "datum.m === 'm2'"}],
    "mark": {"type": "line", "color": "#0000ff", "strokeWidth": 4},
    "encoding": {
     "x": {"field": "t", "type": "quantitative", "scale": {"domain": [0, 0.4], "nice": false}, "axis": {"values": [0, 0.05, 0.1, 0.15, 0.2, 0.25, 0.3, 0.35, 0.4], "labelExpr": "datum.value + ''", "title": "Time (s)", "titleFontSize": 20, "labelFontSize": 13, "grid": true, "gridColor": "#e3e3e3", "gridOpacity": {"condition": {"test": "datum.value > 0.001 && datum.value < 0.399", "value": 1}, "value": 0}}},
     "y": {"field": "e", "type": "quantitative", "scale": {"domain": [-5, 5], "nice": false, "zero": false}, "axis": {"values": [-5, 0, 5], "labelExpr": "datum.value + ''", "title": "m₂ (m)", "labelFontSize": 13, "grid": true, "gridColor": "#e3e3e3", "gridOpacity": {"condition": {"test": "datum.value > -4.99 && datum.value < 4.99", "value": 1}, "value": 0}}}
    }},
   {"data": {"name": "refs"}, "transform": [{"filter": "datum.m === 'm2'"}],
    "mark": {"type": "rule", "color": "#ff0000", "strokeDash": [5, 3], "strokeWidth": 1.3},
    "encoding": {"y": {"field": "r", "type": "quantitative"}}},
   {"data": {"name": "lines"}, "transform": [{"filter": "datum.m === 'm2'"}],
    "mark": {"type": "point", "filled": true, "color": "#00ee00", "opacity": 1, "size": 13, "strokeWidth": 0},
    "encoding": {"x": {"field": "t", "type": "quantitative"}, "y": {"field": "g", "type": "quantitative"}}}
  ]},
 {"width": 450, "height": 47,
  "layer": [
   {"data": {"name": "lines"}, "transform": [{"filter": "datum.m === 'm3'"}],
    "mark": {"type": "line", "color": "#0000ff", "strokeWidth": 4},
    "encoding": {
     "x": {"field": "t", "type": "quantitative", "scale": {"domain": [0, 0.4], "nice": false}, "axis": {"values": [0, 0.05, 0.1, 0.15, 0.2, 0.25, 0.3, 0.35, 0.4], "labelExpr": "datum.value + ''", "title": "Time (s)", "titleFontSize": 20, "labelFontSize": 13, "grid": true, "gridColor": "#e3e3e3", "gridOpacity": {"condition": {"test": "datum.value > 0.001 && datum.value < 0.399", "value": 1}, "value": 0}}},
     "y": {"field": "e", "type": "quantitative", "scale": {"domain": [-4, 0], "nice": false, "zero": false}, "axis": {"values": [-4, -2, 0], "labelExpr": "datum.value + ''", "title": "m₃ (m)", "labelFontSize": 13, "grid": true, "gridColor": "#e3e3e3", "gridOpacity": {"condition": {"test": "datum.value > -3.99 && datum.value < -0.01", "value": 1}, "value": 0}}}
    }},
   {"data": {"name": "refs"}, "transform": [{"filter": "datum.m === 'm3'"}],
    "mark": {"type": "rule", "color": "#ff0000", "strokeDash": [5, 3], "strokeWidth": 1.3},
    "encoding": {"y": {"field": "r", "type": "quantitative"}}},
   {"data": {"name": "lines"}, "transform": [{"filter": "datum.m === 'm3'"}],
    "mark": {"type": "point", "filled": true, "color": "#00ee00", "opacity": 1, "size": 13, "strokeWidth": 0},
    "encoding": {"x": {"field": "t", "type": "quantitative"}, "y": {"field": "g", "type": "quantitative"}}}
  ]},
 {"width": 450, "height": 46,
  "layer": [
   {"data": {"name": "lines"}, "transform": [{"filter": "datum.m === 'm4'"}],
    "mark": {"type": "line", "color": "#0000ff", "strokeWidth": 4},
    "encoding": {
     "x": {"field": "t", "type": "quantitative", "scale": {"domain": [0, 0.4], "nice": false}, "axis": {"values": [0, 0.05, 0.1, 0.15, 0.2, 0.25, 0.3, 0.35, 0.4], "labelExpr": "datum.value + ''", "title": "Time (s)", "titleFontSize": 20, "labelFontSize": 13, "grid": true, "gridColor": "#e3e3e3", "gridOpacity": {"condition": {"test": "datum.value > 0.001 && datum.value < 0.399", "value": 1}, "value": 0}}},
     "y": {"field": "e", "type": "quantitative", "scale": {"domain": [-5, 5], "nice": false, "zero": false}, "axis": {"values": [-5, 0, 5], "labelExpr": "datum.value + ''", "title": "m₄ (m)", "labelFontSize": 13, "grid": true, "gridColor": "#e3e3e3", "gridOpacity": {"condition": {"test": "datum.value > -4.99 && datum.value < 4.99", "value": 1}, "value": 0}}}
    }},
   {"data": {"name": "refs"}, "transform": [{"filter": "datum.m === 'm4'"}],
    "mark": {"type": "rule", "color": "#ff0000", "strokeDash": [5, 3], "strokeWidth": 1.3},
    "encoding": {"y": {"field": "r", "type": "quantitative"}}},
   {"data": {"name": "lines"}, "transform": [{"filter": "datum.m === 'm4'"}],
    "mark": {"type": "point", "filled": true, "color": "#00ee00", "opacity": 1, "size": 13, "strokeWidth": 0},
    "encoding": {"x": {"field": "t", "type": "quantitative"}, "y": {"field": "g", "type": "quantitative"}}}
  ]}
], "spacing": 6,
 "title": {"text": "(b)  L²₂+Quadratic Distance Position Time History", "orient": "bottom", "anchor": "middle", "fontSize": 21, "offset": 52, "dx": 50}}
], "spacing": 16
}
